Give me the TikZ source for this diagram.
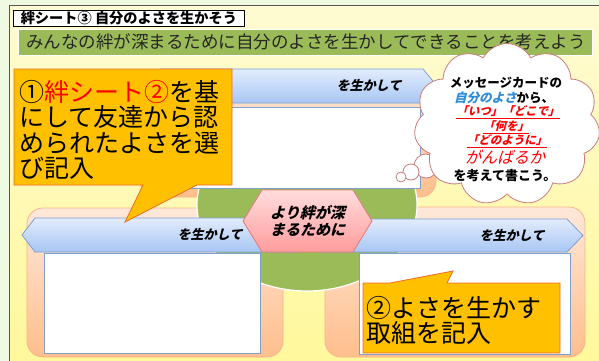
\documentclass[tikz,border=0pt]{standalone}
\usepackage{fontspec}
\setmainfont{Noto Sans CJK JP}
\newfontfamily\jpi[FakeSlant=0.25]{Noto Sans CJK JP}
\usetikzlibrary{shapes.symbols}
\definecolor{bggreen}{HTML}{EEFAE2}
\definecolor{ylwtop}{HTML}{FFFBD2}
\definecolor{ylwbot}{HTML}{FFF89C}
\definecolor{framegray}{HTML}{555555}
\definecolor{olive}{HTML}{9BBB59}
\definecolor{peachtop}{HTML}{FFE8DA}
\definecolor{peachbot}{HTML}{FFBE8C}
\definecolor{peachedge}{HTML}{F8B488}
\definecolor{boxblue}{HTML}{7F9FCF}
\definecolor{bluetop}{HTML}{E2ECFC}
\definecolor{bluebot}{HTML}{A8C6F4}
\definecolor{banneredge}{HTML}{7EA0D0}
\definecolor{hextop}{HTML}{FFDCDC}
\definecolor{hexbot}{HTML}{FF9C9C}
\definecolor{hexedge}{HTML}{E07A7A}
\definecolor{callfill}{HTML}{FFC000}
\definecolor{calledge}{HTML}{EE6A2A}
\definecolor{cloudedge}{HTML}{C87C7C}
\definecolor{txtred}{HTML}{FF0000}
\definecolor{txtblue}{HTML}{2E8BD8}
\tikzset{
  peachbox/.style={rounded corners=16pt, top color=peachtop, bottom color=peachbot, draw=peachedge, line width=0.8pt},
  whitebox/.style={fill=white, draw=boxblue, line width=0.8pt},
  bannerbox/.style={top color=bluetop, bottom color=bluebot, draw=banneredge, line width=0.8pt},
  calloutbox/.style={fill=callfill, draw=calledge, line width=0.8pt},
  bannertext/.style={inner sep=0, font=\jpi\bfseries\fontsize{13}{13}\selectfont},
  bigtext/.style={inner sep=0, align=left, font=\fontsize{25}{25.3}\selectfont},
  cloudtext/.style={inner sep=0, font=\bfseries\fontsize{12.5}{12.5}\selectfont},
  redline/.style={inner sep=0, text=txtred, font=\jpi\bfseries\fontsize{11.5}{11.5}\selectfont},
  bubble/.style={fill=white, draw=cloudedge, line width=0.8pt}
}
\begin{document}
\begin{tikzpicture}[x=1pt,y=-1pt]
\useasboundingbox (0,0) rectangle (599,361);
% background
\fill[bggreen] (0,0) rectangle (599,361);
\shade[top color=ylwtop, bottom color=ylwbot] (10,5.5) rectangle (599,361);
\draw[framegray, line width=1.2pt] (9.5,361) -- (9.5,5.5) -- (599,5.5);
% title
\node[draw=black, fill=white, line width=0.8pt, minimum width=231pt, minimum height=16pt, inner sep=0, anchor=north west,
      font=\bfseries\fontsize{14.2}{14.2}\selectfont] (title) at (13,10) {絆シート③ 自分のよさを生かそう};
\node[fill=olive, draw=white, line width=1pt, minimum width=574pt, minimum height=26pt, inner sep=0, anchor=north west] (banner) at (18,29) {};
\node[inner sep=0, text=black!85, font=\fontsize{17.5}{17.5}\selectfont] (bannertxt) at (306,42) {みんなの絆が深まるために自分のよさを生かしてできることを考えよう};
% peach boxes
\path[peachbox] (140,75) rectangle (436,197);
\path[peachbox] (27,208) rectangle (283,357);
\path[peachbox] (325,207) rectangle (585,357);
% green circle
\draw[fill=olive, draw=white, line width=1.2pt] (307,205) ellipse [x radius=110pt, y radius=86pt];
% white boxes
\path[whitebox] (170,107) rectangle (420,188);
\path[whitebox] (44,253) rectangle (260,353);
\path[whitebox] (359,253) rectangle (570,354);
% banners
\path[bannerbox] (160,69) -- (423,69) -- (437,86) -- (423,103) -- (160,103) -- cycle;
\path[bannerbox] (300,218) -- (35,218) -- (22,235) -- (35,252) -- (300,252) -- cycle;
\path[bannerbox] (320,219) -- (567,219) -- (583,235.5) -- (567,252) -- (320,252) -- cycle;
\node[bannertext] (b1) at (369,85) {を生かして};
\node[bannertext] (b2) at (210,234) {を生かして};
\node[bannertext] (b3) at (512,235) {を生かして};
% hexagon
\path[top color=hextop, bottom color=hexbot, draw=hexedge, line width=0.8pt]
  (243,221) -- (262,190) -- (353,190) -- (372,221) -- (353,252) -- (262,252) -- cycle;
\node[inner sep=0, align=center, font=\jpi\bfseries\fontsize{15}{17}\selectfont] (hex) at (307.5,220.5) {より絆が深\\まるために};
% callouts
\path[calloutbox] (14,69) -- (232,69) -- (232,185) -- (197,185) -- (125,222) -- (143,185) -- (14,185) -- cycle;
\node[bigtext, anchor=west] (call1) at (19,130) {①{\color{txtred}絆シート②}を基\\にして友達から認\\められたよさを選\\び記入};
\path[calloutbox] (363,283) -- (390,283) -- (453,271) -- (447,283) -- (560,283) -- (560,353) -- (363,353) -- cycle;
\node[bigtext, anchor=west] (call2) at (366,320.5) {②よさを生かす\\取組を記入};
% thought cloud
\draw[bubble] (426,166) circle (12pt);
\draw[bubble] (411,172) circle (8pt);
\draw[bubble] (401,177) circle (5pt);
\node[cloud, cloud puffs=11, cloud puff arc=125, cloud ignores aspect, fill=white, draw=cloudedge, line width=0.8pt,
      minimum width=186pt, minimum height=162pt, inner sep=0, outer sep=0] (cloud) at (507,124.5) {};
\node[cloudtext] (c1) at (506,83) {メッセージカードの};
\node[cloudtext] (c2) at (504,98) {{\jpi\color{txtblue}自分のよさ}から、};
\node[redline] (c3) at (508,112) {\underline{「いつ」「どこで」}};
\node[redline] (c4) at (506,127) {\underline{「何を」}};
\node[redline] (c5) at (507,141) {\underline{「どのように」}};
\node[inner sep=0, text=txtred, font=\jpi\fontsize{16}{16}\selectfont] (c6) at (505,157) {がんばるか};
\node[cloudtext, font=\bfseries\fontsize{13}{13}\selectfont] (c7) at (505,176) {を考えて書こう。};
\end{tikzpicture}
\end{document}
